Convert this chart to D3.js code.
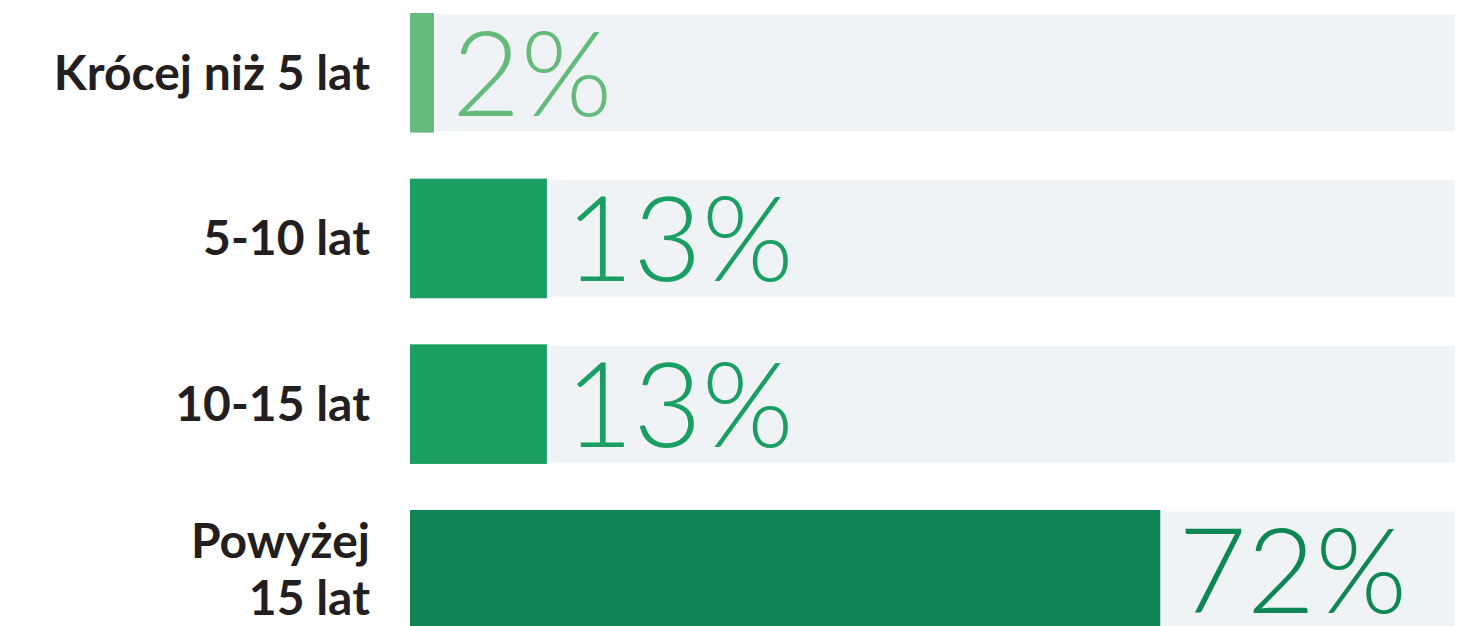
<!DOCTYPE html>
<html>
<head>
<meta charset="utf-8">
<script src="https://cdn.jsdelivr.net/npm/d3@7"></script>
<style>
  html, body { margin: 0; padding: 0; background: #fff; }
  svg { display: block; }
</style>
</head>
<body>
<div id="chart"></div>
<script>
// categories and values
const categories = ['Krócej niż 5 lat', '5-10 lat', '10-15 lat', 'Powyżej 15 lat'];
const labelLines = [['Krócej niż 5 lat'], ['5-10 lat'], ['10-15 lat'], ['Powyżej', '15 lat']];
const values = [2.3, 13.1, 13.1, 71.8];
const valueLabels = ['2%', '13%', '13%', '72%'];
const barColors = ['#65bb7b', '#1a9e62', '#1a9e62', '#0e8754'];

const width = 1481, height = 626;

const x = d3.scaleLinear()
  .domain([0, 100])
  .range([410, 1455]);

const y = d3.scaleBand()
  .domain(categories)
  .range([13, 13 + 165.7 * 3 + 119.5])
  .paddingInner(0.278)
  .paddingOuter(0);

const svg = d3.select('#chart').append('svg')
    .attr('width', width)
    .attr('height', height);

const rows = svg.selectAll('g.row')
  .data(categories.map((c, i) => ({ cat: c, value: values[i], label: valueLabels[i], color: barColors[i], lines: labelLines[i] })))
  .join('g')
    .attr('class', 'row')
    .attr('transform', d => `translate(0,${y(d.cat)})`);

// track
rows.append('rect')
    .attr('x', d => x(d.value) + 3)
    .attr('y', 1.5)
    .attr('width', d => x(100) - x(d.value) - 3)
    .attr('height', y.bandwidth() - 3)
    .attr('fill', '#eff3f6');

// bar
rows.append('rect')
    .attr('x', x(0))
    .attr('y', 0)
    .attr('width', d => x(d.value) - x(0))
    .attr('height', y.bandwidth())
    .attr('fill', d => d.color);

// value label
rows.append('text')
    .attr('x', d => x(d.value) + 18)
    .attr('y', y.bandwidth() / 2 + 43)
    .attr('fill', d => d.color)
    .style('font-family', 'Lato')
    .style('font-weight', 300)
    .style('font-size', '118px')
    .text(d => d.label);

// category label
const cat = rows.append('text')
    .attr('text-anchor', 'end')
    .attr('fill', '#231f20')
    .style('font-family', 'Lato')
    .style('font-weight', 700)
    .style('font-size', '48px');

cat.selectAll('tspan')
  .data(d => d.lines.map((l, i, a) => ({ text: l, i, n: a.length })))
  .join('tspan')
    .attr('x', 370)
    .attr('y', d => y.bandwidth() / 2 + 17 + (d.i - (d.n - 1) / 2) * 57)
    .text(d => d.text);
</script>
</body>
</html>
